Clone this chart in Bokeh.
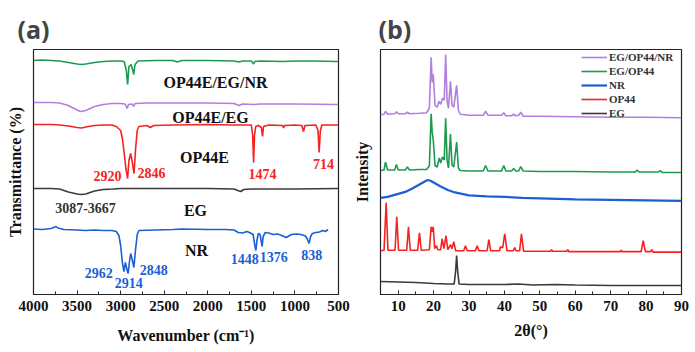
from bokeh.plotting import figure
from bokeh.models import Range1d, SingleIntervalTicker, FixedTicker, Label
from bokeh.layouts import row
from bokeh.embed import file_html
from bokeh.resources import INLINE

# ---------------- (a) FTIR data (wavenumber, stacked transmittance, a.u.) ----------------
ftir_nr_wn = [4000, 3900, 3800, 3740, 3720, 3650, 3500, 3400, 3300, 3200, 3100, 3050, 3020, 3000, 2980,
              2962, 2945, 2925, 2914, 2900, 2885, 2870, 2848, 2830, 2810, 2790, 2600, 2400, 2300, 2000,
              1800, 1700, 1650, 1600, 1550, 1510, 1480, 1460, 1448, 1436, 1420, 1400, 1388, 1376, 1365,
              1340, 1300, 1250, 1200, 1150, 1100, 1080, 1040, 980, 930, 880, 860, 838, 820, 800, 760,
              720, 680, 650, 620]
ftir_nr_t = [65.5, 65, 66, 68, 66.5, 65, 64.5, 64, 64.5, 64, 64, 63, 59, 49, 32,
             23, 32, 24, 21, 32, 41, 36, 27, 44, 60, 64, 64.5, 65, 65.5, 65,
             65, 64.5, 62, 61.5, 63, 61.5, 60, 49, 44, 54, 61, 60, 54, 48, 58,
             62, 61.5, 60, 60.5, 59, 57, 58, 60, 60.5, 60, 58.5, 56, 51, 58, 61, 62,
             62.5, 64, 63, 65]

ftir_eg_wn = [4000, 3800, 3700, 3667, 3600, 3500, 3450, 3400, 3300, 3200, 3087, 3000, 2000, 1700,
              1640, 1620, 1590, 1500, 1000, 500]
ftir_eg_t = [106, 106, 105.5, 104.5, 102.5, 100.5, 100, 100.5, 103.5, 105, 105.5, 106, 106, 105.5,
             103.5, 103, 105, 105.5, 105.5, 106]

ftir_op44e_wn = [4000, 3800, 3700, 3600, 3500, 3450, 3400, 3300, 3200, 3100, 3050, 3000, 2980, 2960,
                 2940, 2920, 2905, 2885, 2870, 2846, 2830, 2810, 2790, 2700, 2660, 2620, 2400, 2000,
                 1700, 1500, 1485, 1474, 1464, 1450, 1420, 1385, 1372, 1360, 1300, 1140, 1131, 1120,
                 1000, 920, 902, 885, 760, 735, 722, 708, 690, 500]
ftir_op44e_t = [170, 170, 169.5, 168.5, 167, 166.5, 167.5, 169, 169.5, 169.5, 168, 164, 156, 142,
                126, 116, 134, 141, 134, 121, 144, 164, 168, 169, 167, 169, 169.5, 170,
                169.5, 169.5, 159, 132, 159, 168, 169, 167, 158, 168, 169.5, 169, 166.5, 169,
                169.5, 169, 163, 169, 169.5, 164, 142, 164, 169.5, 169.5]

ftir_op44e_eg_wn = [4000, 3800, 3700, 3600, 3500, 3460, 3400, 3300, 3200, 3100, 3000, 2950, 2925, 2910,
                    2870, 2850, 2835, 2700, 2000, 1700, 1640, 1600, 1474, 1400, 1000, 500]
ftir_op44e_eg_t = [192, 192, 191.5, 189, 184.5, 183, 184, 188, 190, 191, 191, 190.5, 186, 190,
                   190.5, 188, 191, 191.5, 191.5, 191, 189, 190.5, 190, 190.5, 190.5, 190]

ftir_op44e_eg_nr_wn = [4000, 3900, 3800, 3700, 3600, 3500, 3450, 3400, 3300, 3200, 3100, 3000, 2960,
                       2935, 2920, 2905, 2880, 2860, 2850, 2835, 2800, 2600, 2400, 2350, 2300, 2000,
                       1700, 1640, 1600, 1500, 1474, 1460, 1400, 1131, 1000, 800, 500]
ftir_op44e_eg_nr_t = [234, 234.5, 234, 233.5, 232, 230.5, 230, 230.5, 232, 233, 233.5, 233.5, 233,
                      224, 210, 228, 230, 224, 220, 230, 233.5, 234, 234, 232.5, 234, 234,
                      233.5, 232.5, 233.5, 233.5, 230.5, 233, 233.5, 233, 233.5, 233.5, 233]

# ---------------- (b) XRD data (2theta, stacked intensity, a.u.) ----------------
xrd_eg_tt = [5, 10, 15, 20, 24, 25.8, 26.2, 26.5, 26.8, 27.2, 30, 40, 44, 48, 54.5, 60, 70, 80, 90]
xrd_eg_i = [13, 12.5, 12, 11, 10.5, 10.5, 23, 39, 23, 10.5, 10, 10, 10.5, 9.5, 10, 9.5, 9, 9, 9]

xrd_op44_tt = [5, 6, 6.6, 7.1, 9.1, 9.6, 10.1, 12.4, 12.9, 13.4, 15.5, 16, 16.5, 18.8, 19.3, 19.55,
               19.9, 20.3, 20.8, 21.2, 22, 22.4, 22.9, 23.5, 24, 24.8, 25.2, 25.7, 26.2, 28.5, 29,
               29.5, 31.8, 32.3, 32.8, 35.1, 35.6, 36.1, 38.6, 38.9, 39.5, 40.1, 40.7, 42.5, 42.9,
               43.3, 44.3, 44.8, 45.4, 53, 53.3, 53.6, 57.6, 57.9, 58.2, 72.7, 73, 73.3, 78.6, 79.2,
               79.8, 81.3, 81.6, 82, 90]
xrd_op44_i = [44, 44.5, 92, 44.5, 44.5, 78, 44.5, 44.5, 68, 44.5, 44.5, 62, 44.5, 45, 68, 63,
              68, 46, 49, 45, 45, 56, 46, 59, 45, 50, 46, 53, 44, 44, 49,
              44, 44, 49, 44, 44, 55, 44, 44, 48, 47, 61, 44, 44, 47,
              44, 44, 61, 43.5, 43.5, 45, 43.5, 43.5, 45, 43, 43, 44.5, 43, 43, 54,
              43, 43, 45, 42.5, 42.5]

xrd_nr_tt = [5, 7, 10, 12, 14, 16, 17.5, 18.3, 19, 20, 22, 24, 26, 28, 30, 35, 40, 45, 50, 55, 60, 70, 80, 90]
xrd_nr_i = [97, 98, 101, 103, 106.5, 110.5, 113.5, 115, 114.5, 112.5, 108.5, 105, 102.5, 101, 99.5,
            98.5, 98, 97, 96.5, 96, 95.5, 95, 94.5, 94]

xrd_eg_op44_tt = [5, 6, 6.4, 7, 9, 9.5, 10, 12, 12.6, 13.2, 16, 18, 18.8, 19.3, 19.6, 19.9, 20.4, 21,
                  21.6, 22, 22.5, 23, 23.4, 23.8, 24.2, 24.75, 25.2, 25.7, 26.5, 27, 27.5, 30, 34,
                  34.7, 35.3, 39.2, 39.8, 40.4, 42, 42.6, 43.2, 44, 44.6, 45.3, 50, 60, 70, 77, 77.5,
                  78, 83.5, 84, 84.5, 90]
xrd_eg_op44_i = [124.5, 125, 133, 125, 125, 130.5, 125, 125, 128, 125, 125.5, 125.5, 129, 181.5, 163,
                 155, 129.5, 128, 137, 132, 138, 135, 177, 135, 127, 161, 130, 128, 153, 127, 124.5,
                 124, 124, 129.5, 124, 124, 129.5, 124, 124, 126.5, 124, 124, 128.5, 124, 123.5,
                 123.5, 123, 123, 125, 123, 123, 124.5, 122.5, 122.5]

xrd_eg_op44_nr_tt = [5, 6, 6.4, 7, 9, 9.5, 10, 12, 12.6, 13.2, 16, 18, 18.8, 19.3, 19.6, 19.9, 20.4,
                     21, 21.5, 22, 22.5, 23, 23.4, 23.8, 24.2, 24.75, 25.2, 25.7, 26.5, 27, 27.5, 30,
                     34, 34.7, 35.3, 39.2, 39.8, 40.4, 42, 42.6, 43.2, 44, 44.6, 45.3, 50, 60, 70, 80, 90]
xrd_eg_op44_nr_i = [180.5, 181, 184, 181, 181.5, 183.5, 181.5, 181.5, 183, 181.5, 182, 182.5, 187,
                    238.3, 213, 221, 190, 188, 194, 191, 197, 195, 241, 195, 187, 214, 190, 188, 210,
                    185, 181, 180, 180, 184, 180, 180, 182.5, 179.5, 179.5, 181, 179.5, 180, 183,
                    179, 179, 178.5, 178, 178, 177.5]

# annotations of panel (a)
ftir_labels = ["OP44E/EG/NR", "OP44E/EG", "OP44E", "EG", "NR"]
ftir_label_wn = [1911, 1969, 2038, 2141, 2129]
ftir_label_t = [212, 177, 137, 84, 44]

peak_text = ["2920", "2846", "1474", "714", "3087-3667", "2962", "2914", "2848", "1448", "1376", "838"]
peak_wn = [3151, 2646, 1372, 672, 3403, 3251, 2906, 2619, 1577, 1242, 806]
peak_t = [119, 122, 121, 131, 87, 22, 12, 25, 36, 38, 40]
peak_series = ["op44e", "op44e", "op44e", "op44e", "eg", "nr", "nr", "nr", "nr", "nr", "nr"]

C_GREEN = "#1d9a50"
C_PURPLE = "#b27fe0"
C_RED = "#f52222"
C_GRAY = "#3a3a3a"
C_BLUE = "#1c5fd4"
SERIF = "Liberation Serif"


def style(p, xlabel_standoff):
    p.outline_line_color = "#222222"
    p.outline_line_width = 1.2
    p.xgrid.visible = False
    p.ygrid.visible = False
    p.background_fill_color = "white"
    p.border_fill_color = "white"
    for ax in p.xaxis:
        ax.axis_line_color = "#222222"
        ax.major_tick_in = 4
        ax.major_tick_out = 0
        ax.minor_tick_in = 3
        ax.minor_tick_out = 0
        ax.major_tick_line_color = "#222222"
        ax.minor_tick_line_color = "#222222"
        ax.major_label_text_font = SERIF
        ax.major_label_text_font_style = "bold"
        ax.major_label_text_font_size = "15px"
        ax.major_label_text_color = "#111111"
        ax.major_label_standoff = 6
        ax.axis_label_text_font = SERIF
        ax.axis_label_text_font_style = "bold"
        ax.axis_label_text_font_size = "16px"
        ax.axis_label_text_color = "#111111"
        ax.axis_label_standoff = xlabel_standoff
    for ax in p.yaxis:
        ax.ticker = FixedTicker(ticks=[])
        ax.axis_line_color = None
        ax.major_tick_in = 0
        ax.major_tick_out = 0
        ax.minor_tick_in = 0
        ax.minor_tick_out = 0
        ax.major_label_standoff = 0
        ax.axis_label_text_font = SERIF
        ax.axis_label_text_font_style = "bold"
        ax.axis_label_text_font_size = "16px"
        ax.axis_label_text_color = "#111111"
        ax.axis_label_standoff = 10
    p.title.text_font = "Open Sans"
    p.title.text_font_style = "bold"
    p.title.text_font_size = "25px"
    p.title.align = "left"
    p.title.standoff = 8


# ---------------- panel (a) ----------------
p1 = figure(width=350, height=352, output_backend="svg", toolbar_location=None,
            x_range=Range1d(4000, 500), y_range=Range1d(0, 245),
            min_border_left=33, min_border_right=12, min_border_top=49, min_border_bottom=58,
            title="(a)", x_axis_label="Wavenumber (cm\u207b\u00b9)", y_axis_label="Transmittance (%)")
p1.xaxis.ticker = SingleIntervalTicker(interval=500, num_minor_ticks=2)
style(p1, 13)
p1.title.offset = -16

lw = 1.6
p1.line(ftir_op44e_eg_nr_wn, ftir_op44e_eg_nr_t, line_color=C_GREEN, line_width=lw)
p1.line(ftir_op44e_eg_wn, ftir_op44e_eg_t, line_color=C_PURPLE, line_width=lw)
p1.line(ftir_op44e_wn, ftir_op44e_t, line_color=C_RED, line_width=lw)
p1.line(ftir_eg_wn, ftir_eg_t, line_color=C_GRAY, line_width=lw)
p1.line(ftir_nr_wn, ftir_nr_t, line_color=C_BLUE, line_width=lw)

for txt, xw, yt in zip(ftir_labels, ftir_label_wn, ftir_label_t):
    p1.add_layout(Label(x=xw, y=yt, text=txt, text_align="center", text_baseline="middle",
                        text_font=SERIF, text_font_style="bold", text_font_size="16px",
                        text_color="#111111"))

series_color = {"op44e": C_RED, "eg": "#333333", "nr": C_BLUE}
for txt, xw, yt, s in zip(peak_text, peak_wn, peak_t, peak_series):
    p1.add_layout(Label(x=xw, y=yt, text=txt, text_align="center", text_baseline="middle",
                        text_font=SERIF, text_font_style="bold", text_font_size="14px",
                        text_color=series_color[s]))

# ---------------- panel (b) ----------------
p2 = figure(width=345, height=352, output_backend="svg", toolbar_location=None,
            x_range=Range1d(5, 90), y_range=Range1d(0, 246),
            min_border_left=30, min_border_right=14, min_border_top=49, min_border_bottom=57,
            title="(b)", x_axis_label="2\u03b8(\u00b0)", y_axis_label="Intensity")
p2.xaxis.ticker = SingleIntervalTicker(interval=10, num_minor_ticks=2)
style(p2, 8)
p2.title.offset = -2

lw2 = 1.6
p2.line(xrd_eg_op44_nr_tt, xrd_eg_op44_nr_i, line_color=C_PURPLE, line_width=lw2, legend_label="EG/OP44/NR")
p2.line(xrd_eg_op44_tt, xrd_eg_op44_i, line_color=C_GREEN, line_width=lw2, legend_label="EG/OP44")
p2.line(xrd_nr_tt, xrd_nr_i, line_color=C_BLUE, line_width=lw2 + 0.6, legend_label="NR")
p2.line(xrd_op44_tt, xrd_op44_i, line_color=C_RED, line_width=lw2, legend_label="OP44")
p2.line(xrd_eg_tt, xrd_eg_i, line_color=C_GRAY, line_width=lw2, legend_label="EG")

lg = p2.legend[0]
lg.location = (201, 174)
lg.border_line_color = None
lg.background_fill_alpha = 0
lg.label_text_font = SERIF
lg.label_text_font_style = "bold"
lg.label_text_font_size = "11px"
lg.label_text_color = "#333333"
lg.glyph_width = 26
lg.glyph_height = 14
lg.label_height = 14
lg.label_standoff = 2
lg.spacing = 0
lg.padding = 1
lg.margin = 0

layout = row(p1, p2)
open("out.html", "w").write(file_html(layout, INLINE))
